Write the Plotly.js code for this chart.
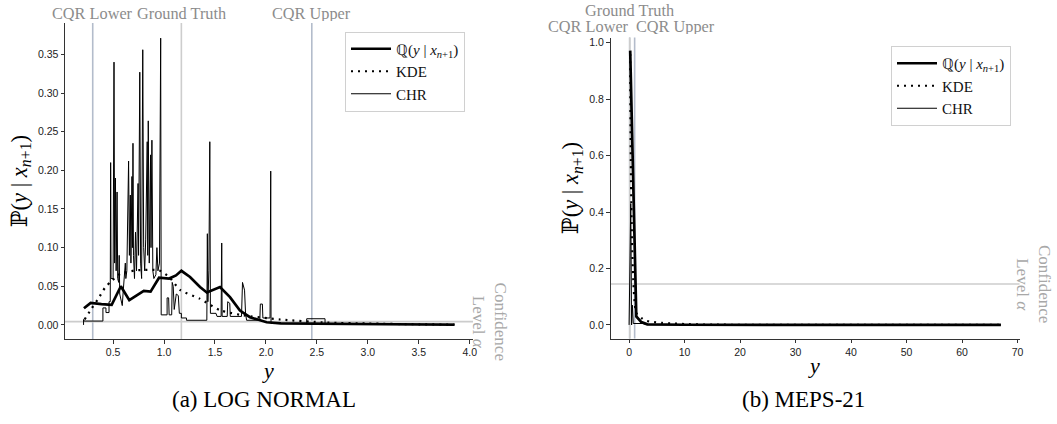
<!DOCTYPE html>
<html>
<head>
<meta charset="utf-8">
<script src="https://cdn.plot.ly/plotly-3.0.1.min.js"></script>
<style>html,body{margin:0;padding:0;background:#fff;}#chart{width:1057px;height:424px;}</style>
</head>
<body>
<div id="chart"></div>
<script>
// ---------- Panel (a): LOG NORMAL ----------
const leftQX = [0.214,0.28,0.386,0.486,0.576,0.659,0.801,0.868,0.951,1.05,1.117,1.17,1.255,1.353,1.42,1.549,1.647,1.745,1.843,2.007,2.146,2.5,3.0,3.5,3.85];
const leftQY = [0.0215,0.0285,0.027,0.026,0.05,0.032,0.044,0.043,0.061,0.060,0.064,0.070,0.062,0.049,0.042,0.049,0.036,0.0185,0.010,0.0034,0.002,0.0018,0.0012,0.0006,0.0002];

const leftKdeX = [0.22,0.288,0.355,0.42,0.486,0.57,0.72,0.951,1.05,1.16,1.35,1.55,1.75,2.14,2.6,3.0,3.5,3.85];
const leftKdeY = [0.007,0.021,0.034,0.048,0.057,0.066,0.0705,0.0705,0.062,0.045,0.034,0.019,0.013,0.007,0.003,0.0018,0.0008,0.0004];

const leftChrX = [0.21,0.21,0.215,0.40,0.40,0.43,0.43,0.46,0.46,0.472,0.476,0.48,0.50,0.509,0.515,0.523,0.53,0.539,0.545,0.555,0.56,0.565,0.58,0.59,0.60,0.61,0.62,0.625,0.635,0.652,0.66,0.669,0.675,0.685,0.69,0.695,0.70,0.71,0.72,0.73,0.745,0.75,0.762,0.77,0.78,0.791,0.80,0.81,0.82,0.835,0.84,0.845,0.855,0.868,0.872,0.881,0.89,0.90,0.92,0.93,0.94,0.955,0.967,0.972,1.03,1.03,1.045,1.05,1.075,1.08,1.09,1.10,1.12,1.14,1.15,1.17,1.17,1.22,1.22,1.42,1.425,1.43,1.44,1.449,1.455,1.51,1.52,1.56,1.566,1.57,1.62,1.625,1.645,1.65,1.76,1.77,1.79,1.80,1.81,1.94,1.945,1.965,1.97,2.04,2.047,2.05,2.40,2.40,2.58,2.58,3.85];
const leftChrY = [0.0,0.007,0.005,0.005,0.022,0.022,0.016,0.016,0.03,0.03,0.21,0.06,0.06,0.34,0.08,0.19,0.07,0.172,0.06,0.055,0.09,0.04,0.03,0.025,0.045,0.06,0.08,0.06,0.07,0.212,0.09,0.168,0.08,0.192,0.10,0.235,0.09,0.06,0.12,0.07,0.183,0.09,0.327,0.08,0.06,0.356,0.10,0.07,0.11,0.237,0.09,0.264,0.08,0.22,0.10,0.239,0.07,0.06,0.065,0.10,0.07,0.08,0.371,0.013,0.013,0.035,0.035,0.013,0.013,0.055,0.05,0.02,0.04,0.038,0.015,0.015,0.009,0.009,0.006,0.006,0.118,0.03,0.07,0.237,0.015,0.015,0.011,0.011,0.106,0.011,0.011,0.03,0.028,0.011,0.011,0.055,0.045,0.015,0.006,0.006,0.027,0.027,0.009,0.009,0.199,0.002,0.002,0.008,0.008,0.001,0.001];

const leftRefNames = ["CQR Lower","Ground Truth","CQR Upper"];
const leftRefX = [0.30, 1.17, 2.45];
const leftAlpha = 0.0043;

// ---------- Panel (b): MEPS-21 ----------
const rightQX = [0.2,1.3,2.2,3.3,10,20,40,67];
const rightQY = [0.972,0.03,0.01,0.002,0.0005,0.0002,0.0001,0.0];

const rightKdeX = [0.2,1.3,2.2,3.0,4.5,6,8,10,15,67];
const rightKdeY = [0.96,0.042,0.025,0.015,0.01,0.007,0.005,0.003,0.001,0.0];

const rightChrX = [0.0,0.3,0.45,0.6,0.75,2.5,3.0,67];
const rightChrY = [0.0,0.43,0.0,0.07,0.005,0.005,0.001,0.0];

const rightRefNames = ["CQR Lower","Ground Truth","CQR Upper"];
const rightRefX = [0.1, 0.12, 1.0];
const rightAlpha = 0.145;

const captions = ["(a) LOG NORMAL", "(b) MEPS-21"];
const seriesNames = ["ℚ(<i>y</i> | <i>x</i><sub><i>n</i>+1</sub>)", "KDE", "CHR"];

// ---------- Styling ----------
const W = 1057, H = 424;
const serif = "Liberation Serif, Times New Roman, serif";
const mathFont = "Liberation Serif, DejaVu Serif, serif";
const tickFont = {family: "Liberation Sans, Arial, sans-serif", size: 10.5, color: "#222"};
const refColors = ["#b3bccb", "#cdcdcd", "#b3bccb"];

function px2x(p){return p/W;}
function px2y(p){return 1 - p/H;}

const traces = [];
function addPanel(qx,qy,kx,ky,cx,cy,xa,ya,leg){
  traces.push({x:cx,y:cy,xaxis:xa,yaxis:ya,mode:"lines",name:seriesNames[2],legend:leg,legendrank:3,
    line:{color:"#000",width:1},hoverinfo:"skip"});
  traces.push({x:kx,y:ky,xaxis:xa,yaxis:ya,mode:"lines",name:seriesNames[1],legend:leg,legendrank:2,
    line:{color:"#000",width:2.2,dash:"2px,5px",shape:"spline",smoothing:0.6},hoverinfo:"skip"});
  traces.push({x:qx,y:qy,xaxis:xa,yaxis:ya,mode:"lines",name:seriesNames[0],legend:leg,legendrank:1,
    line:{color:"#000",width:2.7},hoverinfo:"skip"});
}
addPanel(leftQX,leftQY,leftKdeX,leftKdeY,leftChrX,leftChrY,"x","y","legend");
addPanel(rightQX,rightQY,rightKdeX,rightKdeY,rightChrX,rightChrY,"x2","y2","legend2");

function axisBase(){
  return {showline:true,linecolor:"#333",linewidth:1,ticks:"outside",ticklen:3.5,tickwidth:1,tickcolor:"#333",
    showgrid:false,zeroline:false,tickfont:tickFont,fixedrange:true};
}
const yTitle = "ℙ(<i>y</i> | <i>x</i><sub><i>n</i>+1</sub>)";

const shapes = [];
const annotations = [];
function refLines(xs, xref, yref, colors){
  xs.forEach((v,i)=>{
    shapes.push({type:"line",xref:xref,yref:yref+" domain",x0:v,x1:v,y0:0,y1:1,layer:"below",
      line:{color:colors[i],width:1.6}});
  });
}
refLines(leftRefX,"x","y",refColors);
refLines(rightRefX,"x2","y2",refColors);
shapes.push({type:"line",xref:"x domain",yref:"y",x0:0,x1:1,y0:leftAlpha,y1:leftAlpha,layer:"below",line:{color:"#cccccc",width:1.6}});
shapes.push({type:"line",xref:"x2 domain",yref:"y2",x0:0,x1:1,y0:rightAlpha,y1:rightAlpha,layer:"below",line:{color:"#cccccc",width:1.6}});

const labFont = {family:serif,size:16.3,color:"#8c8c8c"};
function refLabel(text,xref,x,ypx,xanchor){
  annotations.push({text:text,xref:xref,yref:"paper",x:x,y:px2y(ypx),xanchor:xanchor,yanchor:"middle",
    showarrow:false,font:labFont,borderpad:0,height:15});
}
// left labels: one row
leftRefNames.forEach((n,i)=>refLabel(n,"x",leftRefX[i],13.5,"center"));
// right labels: staggered
refLabel(rightRefNames[1],"x2",rightRefX[1],11,"center");
refLabel(rightRefNames[0],"x2",rightRefX[0],26.5,"right");
refLabel(rightRefNames[2],"x2",rightRefX[2],26.5,"left");

const confFont = {family:serif,size:17,color:"#a8a8a8"};
annotations.push({text:"Confidence<br>Level <i>α</i>",xref:"paper",yref:"y",x:px2x(489),y:leftAlpha,textangle:90,
  xanchor:"center",yanchor:"middle",showarrow:false,font:confFont});
annotations.push({text:"Confidence<br>Level <i>α</i>",xref:"paper",yref:"y2",x:px2x(1034),y:rightAlpha,textangle:90,
  xanchor:"center",yanchor:"middle",showarrow:false,font:confFont});

const capFont = {family:"Liberation Serif, Times New Roman, serif",size:23,color:"#000"};
annotations.push({text:captions[0],xref:"paper",yref:"paper",x:px2x(264),y:px2y(399.5),xanchor:"center",yanchor:"middle",showarrow:false,font:capFont});
annotations.push({text:captions[1],xref:"paper",yref:"paper",x:px2x(803),y:px2y(399.5),xanchor:"center",yanchor:"middle",showarrow:false,font:capFont});

const legendStyle = {bgcolor:"rgba(255,255,255,0.85)",bordercolor:"#d0d0d0",borderwidth:1,
  font:{family:serif,size:15,color:"#111"},xanchor:"right",yanchor:"top",traceorder:"normal",itemwidth:40};

const layout = {
  width:W,height:H,margin:{l:0,r:0,t:0,b:0},paper_bgcolor:"#fff",plot_bgcolor:"#fff",
  showlegend:true,
  xaxis:Object.assign(axisBase(),{domain:[px2x(65),px2x(473)],range:[0.028,4.032],dtick:0.5,tick0:0,tickformat:".1f",anchor:"y",
    title:{text:"<i>y</i>",font:{family:mathFont,size:22,color:"#000"},standoff:0}}),
  yaxis:Object.assign(axisBase(),{domain:[px2y(339.3),px2y(23)],range:[-0.0186,0.3906],dtick:0.05,tick0:0,tickformat:".2f",anchor:"x",
    title:{text:yTitle,font:{family:mathFont,size:22.5,color:"#000"},standoff:4}}),
  xaxis2:Object.assign(axisBase(),{domain:[px2x(610.5),px2x(1019.5)],range:[-3.35,70.35],dtick:10,tick0:0,anchor:"y2",
    title:{text:"<i>y</i>",font:{family:mathFont,size:22,color:"#000"},standoff:0}}),
  yaxis2:Object.assign(axisBase(),{domain:[px2y(338.6),px2y(37.5)],range:[-0.0485,1.0185],dtick:0.2,tick0:0,tickformat:".1f",anchor:"x2",
    title:{text:yTitle,font:{family:mathFont,size:22.5,color:"#000"},standoff:4}}),
  legend:Object.assign({},legendStyle,{x:px2x(465),y:px2y(31.5)}),
  legend2:Object.assign({},legendStyle,{x:px2x(1011),y:px2y(46)}),
  shapes:shapes,annotations:annotations
};
Plotly.newPlot("chart",traces,layout,{staticPlot:true,displayModeBar:false});
</script>
</body>
</html>
